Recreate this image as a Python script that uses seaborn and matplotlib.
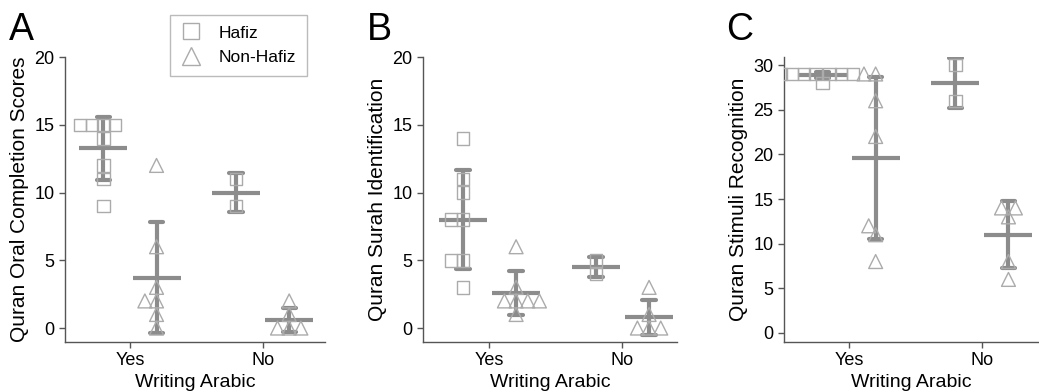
import pandas as pd
import seaborn as sns
import matplotlib.pyplot as plt
from matplotlib.lines import Line2D

# data
writing_levels = ['Yes', 'No']
group_levels = ['Hafiz', 'Non-Hafiz']

oral_hafiz_yes = [15, 15, 15, 15, 14, 12, 11, 9]
oral_nonhafiz_yes = [12, 6, 3, 2, 2, 1, 0]
oral_hafiz_no = [11, 9]
oral_nonhafiz_no = [2, 1, 0, 0, 0]

surah_hafiz_yes = [14, 11, 10, 8, 8, 5, 5, 3]
surah_nonhafiz_yes = [6, 3, 2, 2, 2, 2, 1]
surah_hafiz_no = [5, 4]
surah_nonhafiz_no = [3, 1, 0, 0, 0]

stim_hafiz_yes = [29, 29, 29, 29, 29, 29, 29, 28]
stim_nonhafiz_yes = [29, 29, 26, 22, 12, 11, 8]
stim_hafiz_no = [30, 26]
stim_nonhafiz_no = [14, 14, 13, 8, 6]

panel_letters = ['A', 'B', 'C']
y_labels = ['Quran Oral Completion Scores', 'Quran Surah Identification',
            'Quran Stimuli Recognition']
y_ticks = [[0, 5, 10, 15, 20], [0, 5, 10, 15, 20], [0, 5, 10, 15, 20, 25, 30]]


def make_df(hy, ny, hn, nn):
    rows = []
    for vals, g, w in [(hy, 'Hafiz', 'Yes'), (ny, 'Non-Hafiz', 'Yes'),
                       (hn, 'Hafiz', 'No'), (nn, 'Non-Hafiz', 'No')]:
        for v in vals:
            rows.append({'writing': w, 'group': g, 'score': v})
    return pd.DataFrame(rows)


all_df = [
    make_df(oral_hafiz_yes, oral_nonhafiz_yes, oral_hafiz_no, oral_nonhafiz_no),
    make_df(surah_hafiz_yes, surah_nonhafiz_yes, surah_hafiz_no, surah_nonhafiz_no),
    make_df(stim_hafiz_yes, stim_nonhafiz_yes, stim_hafiz_no, stim_nonhafiz_no),
]

sns.set_style('ticks')
plt.rcParams['font.family'] = ['Liberation Sans', 'DejaVu Sans']
plt.rcParams.update({'text.color': 'black', 'axes.labelcolor': 'black',
                     'xtick.color': 'black', 'ytick.color': 'black'})

point_c = '#ababab'
mean_c = '#8c8c8c'
pal_pts = {'Hafiz': point_c, 'Non-Hafiz': point_c}
pal_mean = {'Hafiz': mean_c, 'Non-Hafiz': mean_c}

W, H = 1039, 392
fig = plt.figure(figsize=(W / 100, H / 100), dpi=100)

# axes boxes in pixels: left, width ; x limits per panel
lefts = [65, 423, 784]
widths = [260, 254, 255]
xlims = [(-0.49, 1.47), (-0.5, 1.41), (-0.49, 1.43)]
ylims = [(-1.03, 20), (-1.03, 20), (-1.01, 30.9)]
letter_x = [9, 367, 726]

swarm_colls = []  # (collection, final marker size)

for i, df_i in enumerate(all_df):
    ax = fig.add_axes([lefts[i] / W, 50 / H, widths[i] / W, 285 / H])

    for g, m, s in [('Hafiz', 's', 9), ('Non-Hafiz', '^', 10)]:
        n_before = len(ax.collections)
        # laid out with a smaller marker so that points overlap like the original
        sns.swarmplot(
            data=df_i[df_i.group == g], x='writing', y='score', hue='group',
            order=writing_levels, hue_order=group_levels, palette=pal_pts,
            dodge=True, marker=m, size=7, linewidth=1,
            edgecolor=point_c, legend=False, ax=ax,
        )
        for coll in ax.collections[n_before:]:
            coll.set_facecolor('none')
            coll.set_edgecolor(point_c)
            swarm_colls.append((coll, s))

    sns.pointplot(
        data=df_i, x='writing', y='score', hue='group',
        order=writing_levels, hue_order=group_levels, palette=pal_mean,
        errorbar='sd', dodge=0.4, markers='_', linestyle='none',
        capsize=0.1, markersize=34, markeredgewidth=3,
        err_kws={'linewidth': 3}, legend=False, ax=ax,
    )

    ax.set_xlim(*xlims[i])
    ax.set_ylim(*ylims[i])
    ax.set_yticks(y_ticks[i])
    ax.set_ylabel(y_labels[i], fontsize=15, labelpad=4)
    ax.set_xlabel('Writing Arabic', fontsize=14, labelpad=3)
    ax.tick_params(labelsize=13, length=4, width=1, color='#555555')
    for sp in ['left', 'bottom']:
        ax.spines[sp].set_color('#555555')
        ax.spines[sp].set_linewidth(1)
    sns.despine(ax=ax)

    fig.text(letter_x[i] / W, 1 - 40 / H, panel_letters[i], fontsize=27,
             ha='left', va='baseline')

handles = [
    Line2D([], [], linestyle='none', marker='s', markersize=12,
           markerfacecolor='none', markeredgecolor=point_c, markeredgewidth=1),
    Line2D([], [], linestyle='none', marker='^', markersize=13,
           markerfacecolor='none', markeredgecolor=point_c, markeredgewidth=1),
]
leg = fig.legend(handles, group_levels, loc='upper left',
                 bbox_to_anchor=(170 / W, 1 - 15 / H), fontsize=12.5,
                 frameon=True, fancybox=False, edgecolor='#aaaaaa',
                 handlelength=1.2, handletextpad=1.0, borderpad=0.6,
                 labelspacing=0.55, borderaxespad=0)
leg.get_frame().set_linewidth(1)

# run the swarm layout once, then freeze it and enlarge the markers
fig.canvas.draw()
for coll, s in swarm_colls:
    if 'draw' in vars(coll):
        del coll.draw
    coll.set_sizes([s ** 2])

plt.savefig('out.png', dpi=100)
plt.close()
